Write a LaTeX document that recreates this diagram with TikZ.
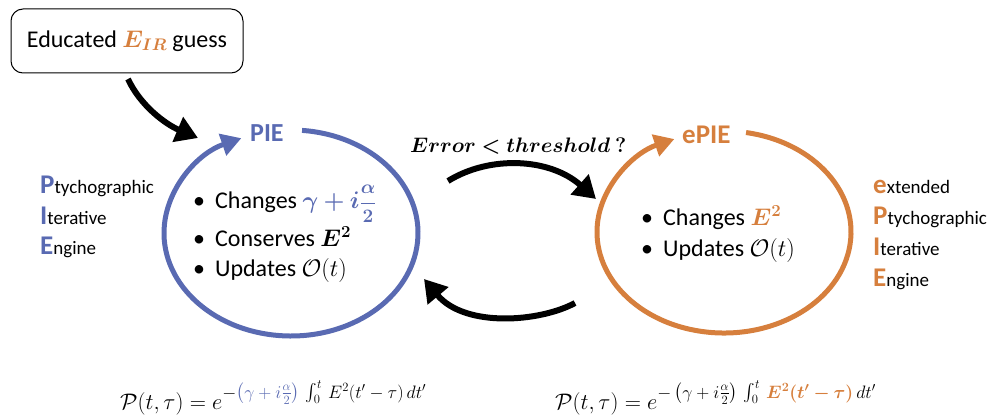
\RequirePackage{fix-cm}
\documentclass[tikz,border=0pt]{standalone}
\usepackage{amsmath,bm}
\usepackage{fontspec}
\setmainfont{Carlito}
\usetikzlibrary{arrows.meta}
\definecolor{pieblue}{RGB}{89,106,178}
\definecolor{pieorange}{RGB}{214,127,61}
\tikzset{
  lbl/.style={inner sep=0pt, anchor=base west},
  bodytxt/.style={lbl, font=\fontsize{24}{28}\selectfont},
  eqtxt/.style={lbl, font=\fontsize{22.5}{26}\selectfont},
  sidetxt/.style={lbl, font=\fontsize{19}{22}\selectfont},
  looparrow/.style={line width=5pt, line cap=butt, -{Triangle[length=20pt,width=22pt]}},
  flow/.style={line width=6pt, black, -{Triangle[length=22pt,width=26pt]}},
}
\newcommand{\bigL}[2]{{\color{#1}\fontsize{27}{30}\selectfont\bfseries #2}}
\newcommand{\expo}[1]{\raisebox{11pt}{\fontsize{18}{21}\selectfont #1}}
\begin{document}
\begin{tikzpicture}[x=1pt,y=-1pt]
\useasboundingbox (0,0) rectangle (990,417);
% guess box
\node[draw, line width=1pt, rounded corners=12pt, minimum width=232pt, minimum height=64pt, inner sep=0pt,
      font=\fontsize{24}{28}\selectfont] (guess) at (127,41)
      {Educated {\color{pieorange}$\bm{E_{IR}}$} guess};
% PIE loop
\coordinate (bc) at (291,233);
\draw[looparrow, pieblue] (bc) ++(-85:127 and 103) arc[start angle=-85, end angle=247, x radius=127, y radius=103];
\node[lbl, pieblue, font=\fontsize{26}{30}\selectfont\bfseries] (pie) at (250,142) {PIE};
% ePIE loop
\coordinate (oc) at (724,232);
\draw[looparrow, pieorange] (oc) ++(-80:127 and 101) arc[start angle=-80, end angle=247, x radius=127, y radius=101];
\node[lbl, pieorange, font=\fontsize{27}{30}\selectfont\bfseries] (epie) at (682,143) {ePIE};
% black arrows
\coordinate (g1) at (128,79);
\coordinate (g2) at (198,138);
\draw[flow] (g1) .. controls (140,105) and (165,124) .. (g2);
\coordinate (a1) at (448,181);
\coordinate (a2) at (596,199);
\draw[flow] (a1) .. controls (490,155) and (550,158) .. (a2);
\coordinate (b1) at (575,303);
\coordinate (b2) at (424,279);
\draw[flow] (b1) .. controls (540,322) and (465,328) .. (b2);
% error label
\node[lbl, font=\fontsize{21}{24}\selectfont] (err) at (410,152) {$\boldsymbol{Error < threshold\ ?}$};
% PIE bullets
\node[bodytxt] (pb1) at (193,208) {•\hspace{10pt}Changes {\color{pieblue}$\bm{\gamma + i}${\fontsize{19}{22}\selectfont$\bm{\dfrac{\alpha}{2}}$}}};
\node[bodytxt] (pb2) at (193,246) {•\hspace{10pt}Conserves $\bm{E^2}$};
\node[bodytxt] (pb3) at (193,276) {•\hspace{10pt}Updates $\mathcal{O}(t)$};
% ePIE bullets
\node[bodytxt] (eb1) at (641,225) {•\hspace{10pt}Changes {\color{pieorange}$\bm{E^2}$}};
\node[bodytxt] (eb2) at (641,256) {•\hspace{10pt}Updates $\mathcal{O}(t)$};
% left acronym
\node[sidetxt] (lp) at (40,193) {\bigL{pieblue}{P}tychographic};
\node[sidetxt] (li) at (40,224) {\bigL{pieblue}{I}terative};
\node[sidetxt] (le) at (40,254) {\bigL{pieblue}{E}ngine};
% right acronym
\node[sidetxt] (re) at (873,193) {\bigL{pieorange}{e}xtended};
\node[sidetxt] (rp) at (873,224) {\bigL{pieorange}{P}tychographic};
\node[sidetxt] (ri) at (873,255) {\bigL{pieorange}{I}terative};
\node[sidetxt] (rg) at (873,286) {\bigL{pieorange}{E}ngine};
% equations
\node[eqtxt] (eql) at (120,409)
  {$\mathcal{P}(t,\tau) = e$\expo{$-\textcolor{pieblue}{\left(\gamma+i\frac{\alpha}{2}\right)}\,\int_0^t\, E^2(t'-\tau)\,dt'$}};
\node[eqtxt] (eqr) at (555,409)
  {$\mathcal{P}(t,\tau) = e$\expo{$-\left(\gamma+i\frac{\alpha}{2}\right)\,\int_0^t\, \textcolor{pieorange}{\bm{E^2(t'-\tau)}}\,dt'$}};
\end{tikzpicture}
\end{document}
